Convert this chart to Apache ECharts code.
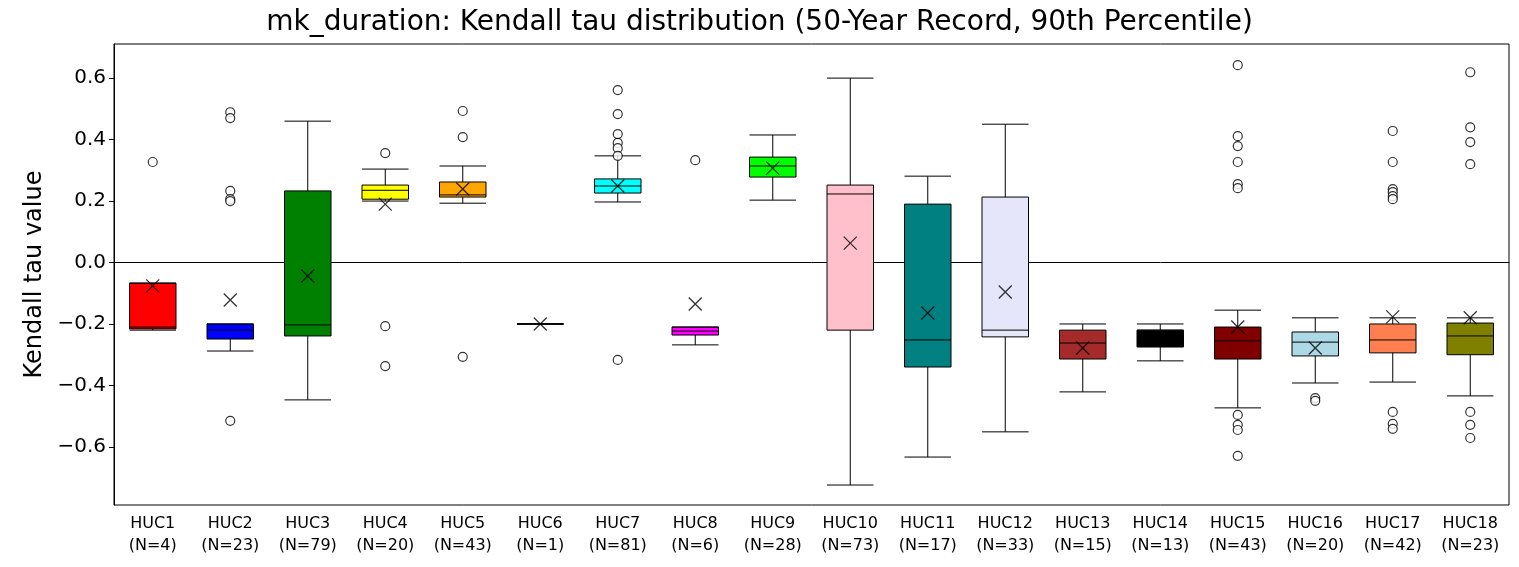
<!DOCTYPE html>
<html><head><meta charset="utf-8">
<script src="https://cdn.jsdelivr.net/npm/echarts@6/dist/echarts.min.js"></script>
<style>html,body{margin:0;padding:0;background:#fff}#c{width:1519px;height:567px}</style>
</head><body><div id="c"></div>
<script>
const categories=['HUC1\n(N=4)','HUC2\n(N=23)','HUC3\n(N=79)','HUC4\n(N=20)','HUC5\n(N=43)','HUC6\n(N=1)','HUC7\n(N=81)','HUC8\n(N=6)','HUC9\n(N=28)','HUC10\n(N=73)','HUC11\n(N=17)','HUC12\n(N=33)','HUC13\n(N=15)','HUC14\n(N=13)','HUC15\n(N=43)','HUC16\n(N=20)','HUC17\n(N=42)','HUC18\n(N=23)'];
const colors=['#ff0000','#0000ff','#008000','#ffff00','#ffa500','#800080','#00ffff','#ff00ff','#00ff00','#ffc0cb','#008080','#e6e6fa','#a52a2a','#000000','#800000','#add8e6','#ff7f50','#808000'];
// [lowWhisker, Q1, median, Q3, highWhisker]
const boxes=[
[-0.22,-0.216,-0.21,-0.067,-0.067],
[-0.288,-0.249,-0.22,-0.2,-0.2],
[-0.447,-0.239,-0.203,0.233,0.46],
[0.2,0.206,0.235,0.252,0.304],
[0.193,0.213,0.22,0.262,0.314],
[-0.2,-0.2,-0.2,-0.2,-0.2],
[0.197,0.226,0.249,0.272,0.347],
[-0.268,-0.236,-0.223,-0.21,-0.21],
[0.203,0.278,0.314,0.343,0.415],
[-0.724,-0.22,0.223,0.252,0.6],
[-0.633,-0.34,-0.252,0.19,0.281],
[-0.551,-0.242,-0.22,0.213,0.45],
[-0.421,-0.314,-0.262,-0.22,-0.2],
[-0.32,-0.275,-0.22,-0.22,-0.2],
[-0.473,-0.314,-0.255,-0.21,-0.155],
[-0.392,-0.304,-0.259,-0.226,-0.18],
[-0.389,-0.294,-0.252,-0.2,-0.18],
[-0.434,-0.3,-0.239,-0.197,-0.18]];
const means=[-0.076,-0.122,-0.044,0.19,0.239,-0.2,0.249,-0.135,0.307,0.063,-0.164,-0.096,-0.278,-0.25,-0.21,-0.278,-0.177,-0.18];
const outliers=[
[0.327],
[0.489,0.47,0.233,0.206,0.2,-0.515],
[],
[0.356,-0.207,-0.337],
[0.493,0.408,-0.307],
[],
[0.561,0.483,0.418,0.389,0.372,0.347,-0.317],
[0.333],
[],[],[],[],[],[],
[0.642,0.411,0.379,0.327,0.255,0.242,-0.496,-0.528,-0.545,-0.629],
[-0.441,-0.45],
[0.428,0.327,0.239,0.229,0.216,0.206,-0.486,-0.525,-0.541],
[0.619,0.44,0.392,0.32,-0.486,-0.528,-0.571]];
const yTicks=[-0.6,-0.4,-0.2,0,0.2,0.4,0.6];

const outPts=[];outliers.forEach((a,i)=>a.forEach(v=>outPts.push([i,v])));
const chart=echarts.init(document.getElementById('c'));
chart.setOption({
 animation:false,
 title:{text:'mk_duration: Kendall tau distribution (50-Year Record, 90th Percentile)',left:'center',top:4,textStyle:{fontFamily:'DejaVu Sans',fontSize:28,fontWeight:'normal',color:'#000'}},
 grid:{left:114,right:10,top:44,bottom:62,show:true,borderColor:'#000',borderWidth:1},
 xAxis:{type:'category',data:categories,axisLine:{lineStyle:{color:'#000'}},axisTick:{alignWithLabel:true,length:5,lineStyle:{color:'#000'}},
   axisLabel:{fontFamily:'DejaVu Sans',fontSize:16,color:'#000',lineHeight:22,margin:8}},
 yAxis:{type:'value',min:-0.789,max:0.711,name:'Kendall tau value',nameLocation:'middle',nameGap:66,
   nameTextStyle:{fontFamily:'DejaVu Sans',fontSize:24,color:'#000'},
   axisLine:{show:true,lineStyle:{color:'#000'}},splitLine:{show:false},
   axisTick:{show:true,customValues:yTicks,length:5,lineStyle:{color:'#000'}},
   axisLabel:{customValues:yTicks,fontFamily:'DejaVu Sans',fontSize:20,color:'#000',
     formatter:v=>(v<0?'\u2212':'')+Math.abs(v).toFixed(1)}},
 series:[
  {type:'boxplot',boxWidth:['60%','60%'],
   data:boxes.map((b,i)=>({value:b,itemStyle:{color:colors[i],borderColor:'#000',borderWidth:1}}))},
  {type:'scatter',data:outPts,symbol:'circle',symbolSize:9,itemStyle:{color:'#fff',borderColor:'#000',borderWidth:1.2},z:5},
  {type:'scatter',data:means.map((v,i)=>[i,v]),symbol:'path://M0,0L10,10M10,0L0,10',symbolSize:13,
   itemStyle:{color:'none',borderColor:'#000',borderWidth:1.3},z:6}
 ]
});
</script></body></html>
